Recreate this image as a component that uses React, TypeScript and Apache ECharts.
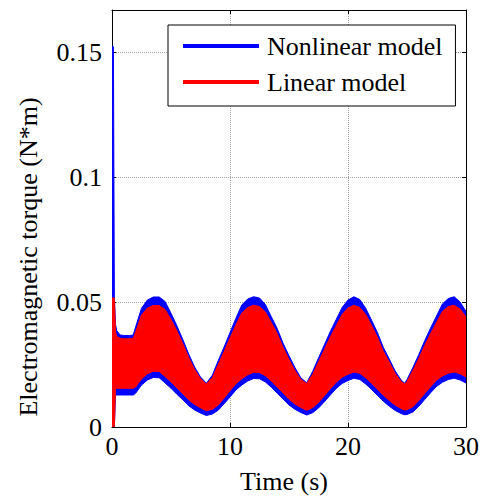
import React, { useEffect, useRef } from 'react';
import * as echarts from 'echarts';

// Time samples (s)
const timeS = [
  0, 0.12, 0.2, 0.3, 0.4, 0.7, 1.0, 1.5, 1.8, 2.0,
  2.5, 3.0, 3.5, 4.0, 4.5, 5.0, 5.5, 6.0, 6.5, 7.0,
  7.5, 8.0, 8.5, 9.0, 9.5, 10.0, 10.5, 11.0, 11.5, 12.0,
  12.5, 13.0, 13.5, 14.0, 14.5, 15.0, 15.5, 16.0, 16.5, 17.0,
  17.5, 18.0, 18.5, 19.0, 19.5, 20.0, 20.5, 21.0, 21.5, 22.0,
  22.5, 23.0, 23.5, 24.0, 24.5, 24.8, 25.0, 25.5, 26.0, 26.5,
  27.0, 27.5, 28.0, 28.5, 29.0, 29.5, 30.0,
];

// Nonlinear model: upper / lower envelope of the torque ripple (N*m)
const nonlinearUpper = [
  0.1521, 0.1521, 0.052, 0.041, 0.0385, 0.0368, 0.0366, 0.0366, 0.0368, 0.04,
  0.0475, 0.0508, 0.052, 0.052, 0.0502, 0.0455, 0.0405, 0.035, 0.0292, 0.024,
  0.02, 0.0175, 0.0207, 0.0265, 0.032, 0.0378, 0.0435, 0.0488, 0.0512, 0.0521,
  0.0516, 0.049, 0.0441, 0.0394, 0.0335, 0.0285, 0.0238, 0.0197, 0.0177, 0.0222,
  0.0276, 0.0329, 0.0382, 0.043, 0.0478, 0.0508, 0.0521, 0.051, 0.0475, 0.0427,
  0.0377, 0.0318, 0.0272, 0.0224, 0.0188, 0.0175, 0.019, 0.0238, 0.029, 0.0345,
  0.0396, 0.0444, 0.0492, 0.0514, 0.0521, 0.05, 0.0462,
];
const nonlinearLower = [
  0, 0, 0, 0.0128, 0.0128, 0.0128, 0.0128, 0.0128, 0.0128, 0.0135,
  0.0168, 0.0188, 0.0198, 0.0197, 0.0176, 0.0155, 0.0131, 0.0109, 0.0085, 0.0068,
  0.0056, 0.0046, 0.0052, 0.0067, 0.0093, 0.012, 0.0148, 0.0168, 0.0184, 0.0194,
  0.0193, 0.018, 0.0159, 0.0135, 0.0112, 0.0088, 0.0071, 0.0058, 0.0048, 0.0057,
  0.0076, 0.0101, 0.0128, 0.0154, 0.0174, 0.0186, 0.0195, 0.019, 0.0172, 0.015,
  0.0126, 0.0103, 0.0083, 0.0066, 0.0054, 0.0049, 0.005, 0.006, 0.0083, 0.011,
  0.0137, 0.0162, 0.0179, 0.019, 0.0195, 0.0188, 0.0176,
];

// Linear model: upper / lower envelope (N*m)
const linearUpper = [
  0.0516, 0.0516, 0.0516, 0.038, 0.0362, 0.0355, 0.0353, 0.0353, 0.0355, 0.038,
  0.0448, 0.0476, 0.0486, 0.0486, 0.047, 0.043, 0.0385, 0.0333, 0.0278, 0.023,
  0.0193, 0.0172, 0.0197, 0.025, 0.0302, 0.0356, 0.0408, 0.0456, 0.0478, 0.0487,
  0.0482, 0.046, 0.0418, 0.0374, 0.0318, 0.027, 0.0226, 0.019, 0.0174, 0.021,
  0.026, 0.031, 0.036, 0.0405, 0.045, 0.0476, 0.0487, 0.0478, 0.045, 0.0406,
  0.0358, 0.0302, 0.0259, 0.0214, 0.0182, 0.0172, 0.0182, 0.0226, 0.0274, 0.0326,
  0.0374, 0.0418, 0.0462, 0.0482, 0.0487, 0.0472, 0.044,
];
const linearLower = [
  0, 0, 0, 0.0155, 0.0155, 0.0155, 0.0155, 0.0155, 0.0155, 0.016,
  0.0192, 0.0213, 0.0223, 0.0222, 0.0202, 0.018, 0.0156, 0.0133, 0.0109, 0.009,
  0.0077, 0.0065, 0.0071, 0.0088, 0.0116, 0.0145, 0.0173, 0.0193, 0.0209, 0.0219,
  0.0218, 0.0205, 0.0184, 0.016, 0.0136, 0.0111, 0.0092, 0.0078, 0.0067, 0.0077,
  0.0098, 0.0125, 0.0153, 0.0179, 0.0199, 0.0211, 0.022, 0.0215, 0.0197, 0.0175,
  0.0151, 0.0127, 0.0106, 0.0087, 0.0074, 0.0068, 0.0069, 0.0081, 0.0106, 0.0134,
  0.0161, 0.0187, 0.0204, 0.0215, 0.022, 0.0213, 0.02,
];

const seriesNames = ['Nonlinear model', 'Linear model'];
const seriesColors = ['#0000ff', '#ff0000'];
const xTitle = 'Time (s)';
const yTitle = 'Electromagnetic torque (N*m)';

const FONT = 'Times New Roman, Liberation Serif, serif';

const bandSeries = (name: string, color: string, up: number[], lo: number[]) => ({
  name,
  type: 'custom',
  silent: true,
  clip: true,
  itemStyle: { color },
  encode: { x: 0, y: [1, 2] },
  data: timeS.map((t, i) => [t, up[i], lo[i]]),
  renderItem: (params: any, api: any) => {
    if (params.dataIndex !== 0) return null;
    const top = timeS.map((t, i) => api.coord([t, up[i]]));
    const bottom = timeS.map((t, i) => api.coord([t, lo[i]])).reverse();
    return {
      type: 'polygon',
      shape: { points: top.concat(bottom) },
      style: { fill: color, stroke: color, lineWidth: 1 },
    };
  },
});

export default function App() {
  const ref = useRef<HTMLDivElement>(null);
  useEffect(() => {
    if (!ref.current) return;
    const chart = echarts.init(ref.current, undefined, { renderer: 'svg' });
    const axisLabel = { fontFamily: FONT, fontSize: 26, color: '#000' };
    const splitLine = { show: true, lineStyle: { color: '#a0a0a0', type: 'dotted' as const, width: 1 } };
    const axisLine = { show: true, onZero: false, lineStyle: { color: '#000', width: 1 } };
    const axisTick = { show: true, inside: true, length: 4, lineStyle: { color: '#000' } };
    chart.setOption({
      animation: false,
      backgroundColor: '#fff',
      grid: { left: 112, top: 10, right: 15, bottom: 71, containLabel: false },
      xAxis: [
        {
          type: 'value', min: 0, max: 30, interval: 10, position: 'bottom',
          axisLine, axisTick, splitLine,
          axisLabel: { ...axisLabel, margin: 6 },
        },
        {
          type: 'value', min: 0, max: 30, interval: 10, position: 'top',
          axisLine, axisTick, splitLine: { show: false }, axisLabel: { show: false },
        },
      ],
      yAxis: [
        {
          type: 'value', min: 0, max: 0.1668, interval: 0.05, position: 'left',
          axisLine, axisTick, splitLine,
          axisLabel: { ...axisLabel, margin: 10, showMaxLabel: false },
        },
        {
          type: 'value', min: 0, max: 0.1668, interval: 0.05, position: 'right',
          axisLine, axisTick, splitLine: { show: false }, axisLabel: { show: false },
        },
      ],
      legend: {
        orient: 'vertical',
        left: 168,
        top: 25,
        data: seriesNames.map((n, i) => ({ name: n, icon: 'rect', itemStyle: { color: seriesColors[i] } })),
        itemWidth: 76,
        itemHeight: 4,
        itemGap: 10,
        padding: [8, 13, 11, 15],
        borderColor: '#000',
        borderWidth: 1,
        backgroundColor: '#fff',
        textStyle: { fontFamily: FONT, fontSize: 26, color: '#000', padding: [0, 0, 0, 3] },
        selectedMode: false,
      },
      graphic: [
        {
          type: 'text', x: 284, y: 481,
          style: { text: xTitle, fontFamily: FONT, fontSize: 26, fill: '#000', align: 'center', verticalAlign: 'middle' },
        },
        {
          type: 'text', x: 28, y: 257, rotation: Math.PI / 2,
          style: { text: yTitle, fontFamily: FONT, fontSize: 26, fill: '#000', align: 'center', verticalAlign: 'middle' },
        },
      ],
      series: [
        bandSeries(seriesNames[0], seriesColors[0], nonlinearUpper, nonlinearLower),
        bandSeries(seriesNames[1], seriesColors[1], linearUpper, linearLower),
      ],
    });
    return () => chart.dispose();
  }, []);
  return (
    <div
      ref={ref}
      style={{ position: 'absolute', left: 0, top: 0, width: 482, height: 498, background: '#fff' }}
    />
  );
}
